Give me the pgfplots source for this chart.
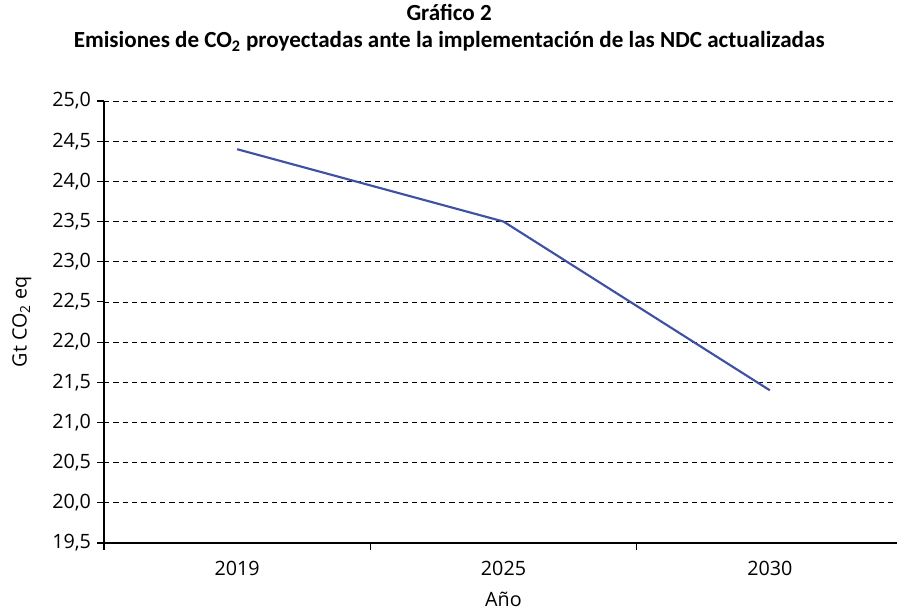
\documentclass[border=0pt]{standalone}
\usepackage{fontspec}
\setmainfont{Open Sans}
\newfontfamily\titlefont{Carlito}
\usepackage{pgfplots}
\pgfplotsset{compat=1.18}
\definecolor{linecol}{RGB}{63,81,163}
\begin{document}
\begin{tikzpicture}
\begin{axis}[
  scale only axis,
  width=599.25pt, height=331.5pt,
  xmin=-0.5, xmax=2.5,
  ymin=19.5, ymax=25,
  axis x line=bottom, axis y line=left,
  axis line style={-, black, line width=0.9pt},
  xtick={-0.5,0.5,1.5,2.5},
  x tick label as interval,
  xticklabels={2019,2025,2030},
  ytick={19.5,20,20.5,21,21.5,22,22.5,23,23.5,24,24.5,25},
  yticklabel style={/pgf/number format/use comma, /pgf/number format/fixed, /pgf/number format/fixed zerofill, /pgf/number format/precision=1, xshift=-1pt},
  /pgf/number format/assume math mode=true,
  tick align=outside,
  major tick length=5.25pt,
  tick style={black, line width=0.8pt},
  ymajorgrids,
  grid style={black, dashed, line width=0.6pt, dash pattern=on 4pt off 3pt},
  ticklabel style={font=\fontsize{14.8}{16}\selectfont},
  xticklabel style={yshift=-4.5pt},
  xlabel={Año},
  ylabel={Gt CO\textsubscript{2} eq},
  label style={font=\fontsize{14.8}{16}\selectfont},
  xlabel style={yshift=-5.5pt},
  ylabel style={yshift=8.75pt},
  clip=false,
]
\addplot[linecol, line width=1.6pt] coordinates {(0,24.4) (1,23.5) (2,21.4)};
\node[font=\titlefont\bfseries\fontsize{17.3}{20.5}\selectfont, align=center, anchor=south]
  at (rel axis cs:0.432,1) [yshift=33.5pt] {Gráfico 2\\Emisiones de CO\textsubscript{2} proyectadas ante la implementación de las NDC actualizadas};
\end{axis}
\pgfresetboundingbox
\path (current axis.south west) ++(-78pt,-50.25pt) rectangle ++(672.75pt,457.5pt);
\end{tikzpicture}
\end{document}
